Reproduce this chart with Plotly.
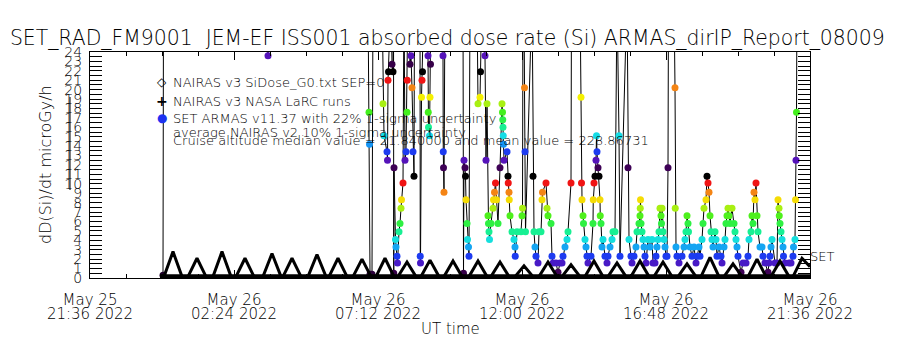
import plotly.graph_objects as go
import pandas as pd

# ---------------- data ----------------
BASE = pd.Timestamp("2022-05-26 00:00")          # minutes below are relative to this
X_RANGE_MIN = [-144, 1296]                        # May 25 21:36 -> May 26 21:36
TICK_MIN = [-144, 144, 432, 720, 1008, 1296]
TICK_DAY = ["May 25", "May 26", "May 26", "May 26", "May 26", "May 26"]
TICK_TIME = ["21:36 2022", "02:24 2022", "07:12 2022", "12:00 2022", "16:48 2022", "21:36 2022"]
Y_TICKS = list(range(0, 25))

# NAIRAS v3 SiDose_G0 (orbital humps)
NAIRAS_G0 = [
    (-4, 0.15),
    (4, 0.15), (22, 2.8), (40, 0.15),
    (52, 0.15), (70, 2.1), (88, 0.15),
    (102, 0.15), (120, 2.8), (138, 0.15),
    (148, 0.15), (166, 2.1), (184, 0.15),
    (202, 0.15), (220, 2.6), (238, 0.15),
    (242, 0.15), (260, 2.1), (278, 0.15),
    (292, 0.15), (310, 2.5), (328, 0.15),
    (334, 0.15), (352, 2.1), (370, 0.15),
    (382, 0.15), (400, 2.0), (418, 0.15),
    (428, 0.15), (446, 2.1), (464, 0.15),
    (472, 0.15), (490, 1.7), (508, 0.15),
    (518, 0.15), (536, 1.9), (554, 0.15),
    (564, 0.15), (582, 1.8), (600, 0.15),
    (614, 0.15), (632, 1.8), (650, 0.15),
    (658, 0.15), (676, 1.7), (694, 0.15),
    (706, 0.15), (724, 1.3), (742, 0.15),
    (754, 0.15), (772, 1.7), (790, 0.15),
    (800, 0.15), (818, 1.4), (836, 0.15),
    (846, 0.15), (864, 1.8), (882, 0.15),
    (892, 0.15), (910, 1.6), (928, 0.15),
    (938, 0.15), (956, 1.8), (974, 0.15),
    (984, 0.15), (1002, 1.7), (1020, 0.15),
    (1032, 0.15), (1050, 1.5), (1068, 0.15),
    (1078, 0.15), (1096, 2.2), (1114, 0.15),
    (1124, 0.15), (1142, 1.5), (1160, 0.15),
    (1172, 0.15), (1190, 2.0), (1208, 0.15),
    (1218, 0.15), (1236, 1.8), (1254, 0.15),
    (1262, 0.15), (1280, 2.1), (1296, 1.2),
]

# NAIRAS v3 NASA LaRC runs (baseline)
NAIRAS_LARC = [(-4, 0.12), (1296, 0.12)]

# SET ARMAS v11.37 (values above 24 are off scale)
ARMAS = [
    (2, 0.3), (3, 30), (210, 30), (212, 23.6), (214, 30),
    (412, 30), (414, 17.6), (415, 14.2), (416, 0.4), (420, 0.4), (422, 30),
    (440, 30), (442, 18.5), (444, 15.1), (450, 13.4), (451, 12.5), (452, 21.0), (453, 21.9),
    (458, 30), (460, 22.7), (462, 21.9), (463, 30), (463.5, 0.5),
    (464, 11.7), (467, 4.1), (468, 3.3), (470, 2.3), (471, 1.6), (474, 4.9), (476, 5.8),
    (478, 7.4), (479, 8.3), (482, 10.1), (484, 30),
    (486, 12.5), (488, 13.4), (490, 17.6), (490.5, 21.0), (492, 30), (496, 22.7), (498, 23.6),
    (500, 20.2), (502, 13.4), (504, 10.8), (505, 30),
    (516, 30), (516.5, 2.3), (517, 1.6), (519, 19.2), (520, 21.0), (521, 21.9), (524, 30),
    (532, 23.6), (532.5, 17.6), (533, 16.0), (535, 15.1), (536, 19.2), (537, 22.7), (538, 30),
    (560, 30), (562, 23.6), (562.5, 13.4), (563, 11.7), (564, 9.1), (566, 30),
    (602, 30), (603, 0.5), (604, 12.5), (606, 11.7), (607, 10.8), (608, 8.3), (610, 5.8),
    (611, 4.1), (613, 3.3), (614, 2.3), (616, 30),
    (630, 30), (632, 18.5), (636, 19.2), (637, 21.9), (640, 30), (646, 23.6), (648, 12.5),
    (650, 18.5), (652, 6.6), (653, 5.8), (654, 4.9), (655, 4.1), (658, 5.8), (662, 7.4),
    (663, 8.3), (665, 9.1), (667, 10.1), (669, 8.3), (672, 5.8), (676, 11.7), (680, 18.5),
    (681, 17.6), (681.5, 16.8), (682, 16.0), (682.5, 15.1), (683, 14.2), (684, 12.5),
    (690, 13.4), (692, 10.8), (692.5, 10.1), (694, 9.1), (694.5, 8.3), (696, 6.6), (700, 4.9),
    (704, 4.1), (706, 3.3), (706.5, 2.3), (710, 4.9),
    (718, 4.9), (720, 6.6), (721, 7.4), (722, 30), (724, 30), (725, 20.2), (726, 13.4),
    (727, 4.9), (740, 30), (742, 10.8), (744, 4.9), (746, 3.3), (748, 2.3), (752, 1.6),
    (754, 4.9), (758, 4.9),
    (760, 8.3), (761, 9.1), (768, 10.1), (770, 7.4), (772, 6.6), (778, 5.8), (780, 2.3),
    (782, 1.6), (788, 1.6), (792, 0.6), (796, 1.6), (800, 1.6), (802, 2.3), (806, 3.3),
    (810, 4.1), (812, 4.9), (818, 10.1), (819, 30),
    (836, 30), (838, 19.2), (839, 10.1), (840, 8.3), (842, 6.6), (843, 5.8), (846, 4.1),
    (848, 3.3), (850, 2.3), (852, 1.6), (858, 2.3),
    (862, 5.8), (862.5, 8.3), (864, 10.1), (866, 10.8), (868, 12.5), (869, 15.1), (870, 13.4),
    (872, 11.7), (874, 10.8), (876, 8.3), (876.5, 6.6), (878, 5.8), (880, 3.3), (882, 4.1),
    (886, 2.3), (890, 1.6), (892, 2.3),
    (896, 3.3), (900, 4.1), (902, 4.9), (906, 4.9), (910, 30), (914, 15.1), (916, 2.3),
    (930, 30), (932, 11.7), (934, 4.1),
    (938, 2.3), (940, 1.6), (944, 2.3), (948, 3.3), (950, 4.9), (954, 5.8), (956, 6.6),
    (956.5, 7.4), (957, 8.3), (958, 5.8), (960, 4.9), (962, 4.1), (964, 3.3), (966, 2.3),
    (968, 1.6), (972, 4.1), (976, 3.3), (980, 4.1), (982, 1.6), (986, 1.6),
    (988, 2.3), (990, 3.3), (992, 4.1), (994, 4.9), (996, 7.4), (998, 6.6), (999, 5.8),
    (1000, 7.4), (1002, 4.9), (1004, 4.1), (1006, 3.3), (1008, 2.3), (1010, 2.3),
    (1012, 11.7), (1013, 30), (1024, 30), (1026, 20.2), (1026.5, 7.4), (1028, 3.3),
    (1030, 2.3), (1034, 1.6), (1040, 2.3), (1044, 3.3), (1046, 4.1), (1048, 4.9), (1050, 6.6),
    (1052, 5.8), (1053, 4.9), (1056, 3.3), (1060, 2.3), (1064, 3.3), (1068, 1.6), (1070, 2.3),
    (1074, 3.3), (1076, 2.3),
    (1080, 4.1), (1082, 5.8), (1084, 7.4), (1088, 8.3), (1090, 10.8), (1092, 10.1),
    (1094, 9.1), (1096, 6.6), (1098, 4.9), (1100, 4.1), (1102, 3.3), (1106, 4.9), (1108, 4.1),
    (1110, 2.3), (1114, 3.3), (1118, 2.3), (1120, 1.6), (1124, 3.3),
    (1126, 4.1), (1128, 5.8), (1130, 6.6), (1132, 7.4), (1134, 6.6), (1136, 5.8), (1140, 7.4),
    (1144, 5.8), (1146, 4.9), (1148, 4.1), (1150, 3.3), (1152, 2.3), (1158, 0.6), (1162, 1.6),
    (1168, 1.6), (1172, 2.3), (1174, 4.1),
    (1178, 4.9), (1180, 6.6), (1182, 5.8), (1184, 9.1), (1186, 8.3), (1188, 10.1), (1190, 6.6),
    (1192, 4.9), (1196, 3.3), (1200, 3.3), (1202, 2.3), (1206, 1.6),
    (1212, 0.6), (1214, 1.6), (1216, 2.3), (1218, 3.3), (1220, 4.1), (1226, 1.6), (1230, 1.6),
    (1232, 8.3), (1234, 7.4), (1234.5, 6.6), (1236, 5.8), (1238, 4.9), (1240, 4.1), (1242, 3.3),
    (1243, 2.3), (1246, 1.6), (1254, 1.6), (1258, 1.6),
    (1262, 2.3), (1263, 3.3), (1266, 4.1), (1267, 8.3), (1268, 12.5), (1269, 17.6), (1270, 30),
]

TITLE = "SET_RAD_FM9001\u00a0\u00a0JEM-EF ISS001 absorbed dose rate (Si) ARMAS_dirIP_Report_08009"
LEGEND_LINES = [
    "NAIRAS v3 SiDose_G0.txt SEP=0",
    "NAIRAS v3 NASA LaRC runs",
    "SET ARMAS v11.37 with 22% 1-sigma uncertainty",
    "average NAIRAS v2 10% 1-sigma uncertainty",
    "Cruise altitude median value = 21.840000 and mean value = 228.86731",
]

# ---------------- helpers ----------------
def to_dt(m):
    return [BASE + pd.Timedelta(minutes=v) for v in m]

FONT = "DejaVu Sans"
W = 200   # thin strokes like the original vector font

# cyclic rainbow colour table (one cycle = PERIOD units of dose rate)
PERIOD = 11.1
PHASE = [(0.00, "#000000"), (0.05, "#3c0050"), (0.12, "#5a10b4"), (0.20, "#1e32f0"),
         (0.28, "#1496f5"), (0.36, "#14dce6"), (0.43, "#14f0a0"), (0.50, "#28f050"),
         (0.58, "#3cf01e"), (0.66, "#a0f014"), (0.73, "#f5f000"), (0.81, "#f59614"),
         (0.88, "#f01414"), (0.92, "#f01414"), (0.955, "#000000")]
NCYC = 3
CSCALE = []
for k in range(NCYC):
    for s, c in PHASE:
        CSCALE.append([(k + s) / NCYC, c])
CSCALE.append([1.0, "#000000"])

fig = go.Figure()

a_t = [p[0] for p in ARMAS]
a_v = [p[1] for p in ARMAS]
fig.add_trace(go.Scatter(
    x=to_dt(a_t), y=a_v, mode="lines+markers",
    line=dict(color="black", width=1),
    marker=dict(size=7, color=a_v, colorscale=CSCALE, cmin=0, cmax=NCYC * PERIOD,
                line=dict(width=0)),
    name=LEGEND_LINES[2], showlegend=False))

l_t = [p[0] for p in NAIRAS_LARC]
l_v = [p[1] for p in NAIRAS_LARC]
fig.add_trace(go.Scatter(x=to_dt(l_t), y=l_v, mode="lines",
                         line=dict(color="black", width=5),
                         name=LEGEND_LINES[1], showlegend=False))

h_t = [p[0] for p in NAIRAS_G0]
h_v = [p[1] for p in NAIRAS_G0]
fig.add_trace(go.Scatter(x=to_dt(h_t), y=h_v, mode="lines",
                         line=dict(color="black", width=3),
                         name=LEGEND_LINES[0], showlegend=False))

tick_dt = to_dt(TICK_MIN)
minor_dt = to_dt(list(range(X_RANGE_MIN[0], X_RANGE_MIN[1] + 1, 72)))

# invisible trace so the second (label-only) x axis is drawn
fig.add_trace(go.Scatter(x=tick_dt, y=[None] * len(tick_dt), xaxis="x2", yaxis="y",
                         mode="markers", showlegend=False, hoverinfo="skip"))

fig.update_layout(
    width=900, height=350,
    margin=dict(l=90, r=90, t=52, b=72),
    paper_bgcolor="white", plot_bgcolor="white",
    font=dict(family=FONT, color="black", weight=W),
    showlegend=False,
    title=dict(text=TITLE, x=0.497, xanchor="center", y=1 - 38 / 350, yanchor="middle",
               font=dict(family=FONT, size=20.4, color="black", weight=W)),
    xaxis=dict(
        range=to_dt(X_RANGE_MIN), tickmode="array", tickvals=tick_dt, ticktext=TICK_DAY,
        ticks="inside", ticklen=8, tickcolor="black", showline=True, linecolor="black",
        linewidth=1, mirror="allticks", showgrid=False, zeroline=False,
        tickfont=dict(family=FONT, size=15, weight=W), ticklabelstandoff=8,
        minor=dict(tickmode="array", tickvals=minor_dt, ticks="inside", ticklen=4,
                   tickcolor="black", showgrid=False),
    ),
    xaxis2=dict(
        range=to_dt(X_RANGE_MIN), overlaying="x", anchor="y", side="bottom",
        tickmode="array", tickvals=tick_dt, ticktext=TICK_TIME, ticks="",
        showline=False, showgrid=False, zeroline=False,
        tickfont=dict(family=FONT, size=15, weight=W), ticklabelstandoff=25,
    ),
    yaxis=dict(
        range=[0, 24], tickmode="array", tickvals=Y_TICKS, ticktext=[str(v) for v in Y_TICKS],
        ticks="inside", ticklen=12, tickcolor="black", showline=True, linecolor="black",
        linewidth=1, mirror="allticks", showgrid=False, zeroline=False,
        tickfont=dict(family=FONT, size=14, weight=W), ticklabelstandoff=4,
        minor=dict(dtick=0.5, ticks="inside", ticklen=7, tickcolor="black", showgrid=False),
    ),
)

def px_x(x):
    return (x - 90) / 720.0

def px_y(y):
    return (278 - y) / 226.0

annotations = []
leg_y = [82, 101, 118, 132, 140]
for txt, yy in zip(LEGEND_LINES, leg_y):
    annotations.append(dict(text=txt, xref="paper", yref="paper", x=px_x(171), y=px_y(yy),
                            xanchor="left", yanchor="middle", showarrow=False,
                            font=dict(family=FONT, size=13, color="black", weight=W)))
annotations.append(dict(text="\u25c7", xref="paper", yref="paper", x=px_x(162), y=px_y(82),
                        xanchor="center", yanchor="middle", showarrow=False,
                        font=dict(family=FONT, size=12, color="black", weight=400)))
annotations.append(dict(text="<b>+</b>", xref="paper", yref="paper", x=px_x(162), y=px_y(101),
                        xanchor="center", yanchor="middle", showarrow=False,
                        font=dict(family=FONT, size=14, color="black")))
annotations.append(dict(text="\u25cf", xref="paper", yref="paper", x=px_x(162), y=px_y(118),
                        xanchor="center", yanchor="middle", showarrow=False,
                        font=dict(family=FONT, size=12, color="#1e32f0", weight=400)))
annotations.append(dict(text="dD(Si)/dt microGy/h", xref="paper", yref="paper",
                        x=px_x(45), y=px_y(165), textangle=-90, xanchor="center",
                        yanchor="middle", showarrow=False,
                        font=dict(family=FONT, size=16, color="black", weight=W)))
annotations.append(dict(text="UT time", xref="paper", yref="paper", x=px_x(450), y=px_y(329),
                        xanchor="center", yanchor="middle", showarrow=False,
                        font=dict(family=FONT, size=15, color="black", weight=W)))
annotations.append(dict(text="SET", xref="paper", yref="y", x=px_x(808), y=2.3,
                        xanchor="left", yanchor="middle", showarrow=False,
                        font=dict(family=FONT, size=13, color="black", weight=W)))
fig.update_layout(annotations=annotations)

fig.add_shape(type="line", xref="paper", yref="paper", x0=px_x(70), x1=px_x(70),
              y0=px_y(190), y1=px_y(97), line=dict(color="black", width=1))

fig.write_html("out.html")
